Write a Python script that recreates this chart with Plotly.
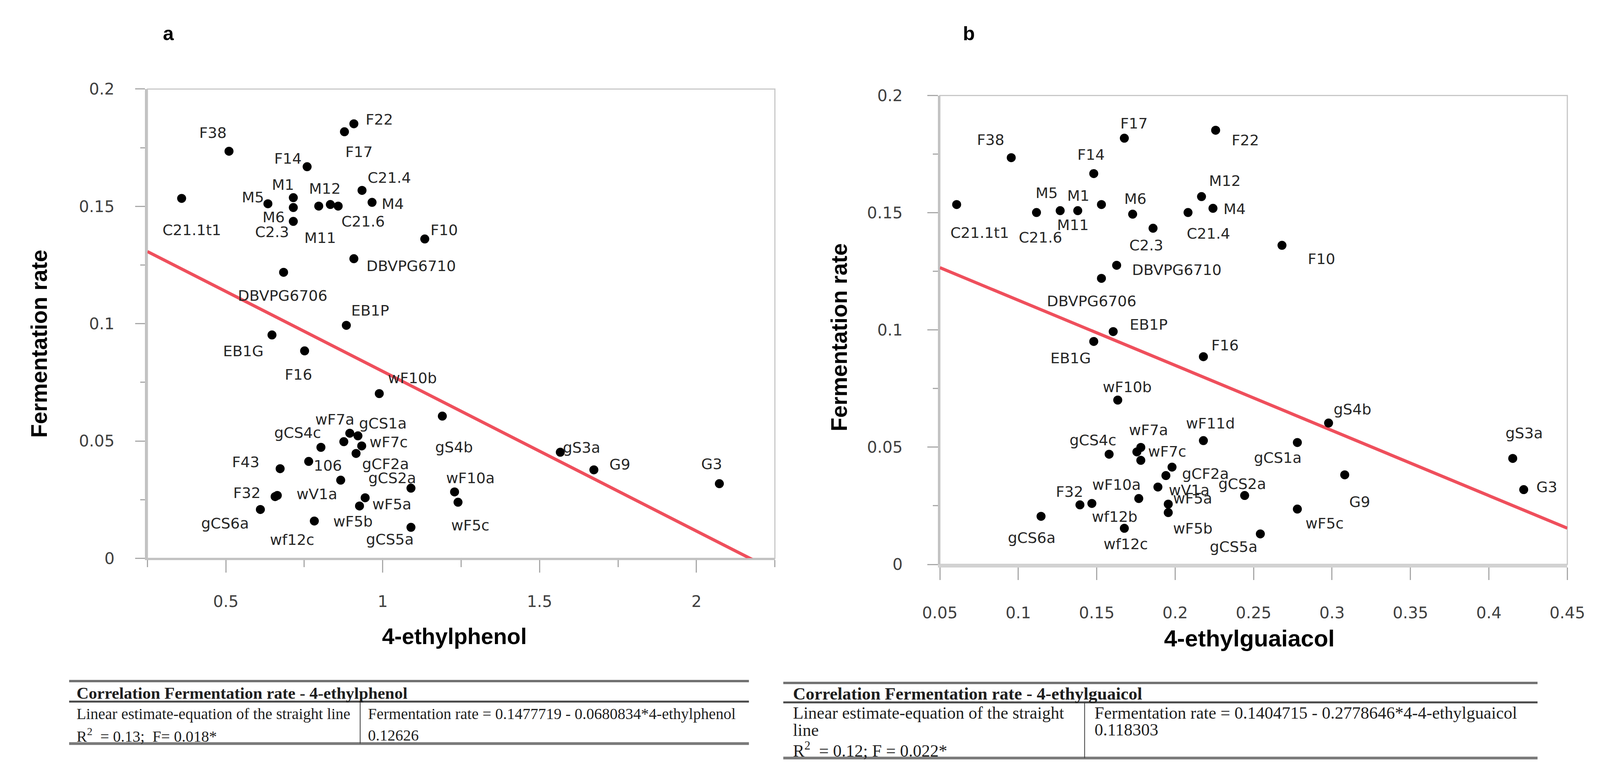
import plotly.graph_objects as go

W, H = 4117, 1997

# ---------------- Panel a data (4-ethylphenol) ----------------
labels_a = ["F22", "F17", "F38", "F14", "C21.4", "C21.1t1", "M5", "M1", "M6", "C2.3",
            "M12", "M11", "C21.6", "M4", "F10", "DBVPG6710", "DBVPG6706", "EB1P", "EB1G", "F16",
            "wF10b", "gS4b", "wF7a", "gCS1a", "", "wF7c", "gCF2a", "gCS4c", "106", "F43",
            "wV1a", "gCS2a", "wF10a", "wF5c", "F32", "", "wF5b", "wF5a", "gCS6a", "wf12c",
            "gCS5a", "gS3a", "G9", "G3"]
ethylphenol = [0.908, 0.878, 0.510, 0.759, 0.934, 0.359, 0.634, 0.715, 0.715, 0.715,
               0.796, 0.833, 0.858, 0.966, 1.134, 0.908, 0.684, 0.884, 0.647, 0.751,
               0.989, 1.190, 0.895, 0.921, 0.876, 0.933, 0.915, 0.803, 0.764, 0.673,
               0.866, 1.090, 1.229, 1.240, 0.657, 0.664, 0.944, 0.926, 0.610, 0.782,
               1.090, 1.566, 1.673, 2.073]
rate_a = [0.1852, 0.1818, 0.1735, 0.1669, 0.1568, 0.1534, 0.1511, 0.1537, 0.1495, 0.1436,
          0.1501, 0.1508, 0.1501, 0.1517, 0.1361, 0.1277, 0.1219, 0.0993, 0.0952, 0.0884,
          0.0702, 0.0606, 0.0533, 0.0522, 0.0497, 0.0479, 0.0447, 0.0473, 0.0413, 0.0382,
          0.0333, 0.0299, 0.0283, 0.0239, 0.0263, 0.0268, 0.0258, 0.0223, 0.0208, 0.0159,
          0.0132, 0.0452, 0.0377, 0.0318]

# ---------------- Panel b data (4-ethylguaiacol) ----------------
labels_b = ["F17", "F22", "F38", "F14", "M12", "C21.1t1", "M4", "C21.6", "M5", "M11",
            "M1", "M6", "C21.4", "C2.3", "F10", "DBVPG6710", "DBVPG6706", "EB1P", "EB1G", "F16",
            "wF10b", "gS4b", "wF11d", "gCS1a", "wF7a", "gCS4c", "wF7c", "", "gCF2a", "",
            "wV1a", "gCS2a", "wF10a", "F32", "wf12b", "wF5a", "wF5b", "gCS6a", "wf12c", "wF5c",
            "gCS5a", "G9", "gS3a", "G3"]
ethylguaiacol = [0.1676, 0.2258, 0.0955, 0.1481, 0.2168, 0.0607, 0.2241, 0.1116, 0.1267, 0.1379,
                 0.1530, 0.1729, 0.2082, 0.1859, 0.2681, 0.1627, 0.1530, 0.1605, 0.1481, 0.2180,
                 0.1634, 0.2978, 0.2180, 0.2779, 0.1781, 0.1579, 0.1756, 0.1781, 0.1980, 0.1941,
                 0.1890, 0.2443, 0.1768, 0.1393, 0.1469, 0.1956, 0.1956, 0.1145, 0.1676, 0.2779,
                 0.2543, 0.3081, 0.4152, 0.4222]
rate_b = [0.1818, 0.1852, 0.1735, 0.1667, 0.1569, 0.1535, 0.1519, 0.1501, 0.1509, 0.1509,
          0.1535, 0.1494, 0.1501, 0.1434, 0.1361, 0.1276, 0.1220, 0.0993, 0.0951, 0.0886,
          0.0701, 0.0603, 0.0528, 0.0520, 0.0499, 0.0470, 0.0480, 0.0444, 0.0415, 0.0379,
          0.0330, 0.0294, 0.0281, 0.0254, 0.0260, 0.0257, 0.0221, 0.0205, 0.0154, 0.0236,
          0.0130, 0.0382, 0.0452, 0.0319]

# Regression coefficients (from the tables)
intercept_a, slope_a = 0.1477719, -0.0680834
intercept_b, slope_b = 0.1404715, -0.2778646

# Table texts
table_a_header = "Correlation Fermentation rate - 4-ethylphenol"
table_a_left = ["Linear estimate-equation of the straight line", "R<sup>2</sup>  = 0.13;  F= 0.018*"]
table_a_right = ["Fermentation rate = 0.1477719 - 0.0680834*4-ethylphenol", "0.12626"]
table_b_header = "Correlation Fermentation rate - 4-ethylguaicol"
table_b_left = ["Linear estimate-equation of the straight", "line", "R<sup>2</sup>  = 0.12; F = 0.022*"]
table_b_right = ["Fermentation rate = 0.1404715 - 0.2778646*4-4-ethylguaicol", "0.118303"]

# ---------------- Styles (label offsets in px: dx right, dy down) ----------------
off_a = [(65, -11), (37, 52), (-41, -47), (-49, -21), (70, -32), (26, 81), (-38, -17), (-26, -33), (-50, 25), (-54, 27),
         (16, -45), (-26, 85), (64, 39), (53, 4), (50, -23), (147, 19), (-2, 60), (61, -38), (-73, 41), (-16, 61),
         (85, -40), (30, 80), (-38, -35), (64, -32), (0, 0), (69, -10), (75, 27), (-60, -37), (49, 11), (-88, -17),
         (-61, 36), (-48, -26), (41, -35), (31, 59), (-72, -9), (0, 0), (-31, 61), (83, -4), (-91, 36), (-57, 48),
         (-54, 31), (55, -12), (67, -14), (-20, -50)]
off_b = [(25, -38), (76, 26), (-53, -46), (-7, -48), (60, -40), (59, 72), (55, 2), (10, 64), (-35, -45), (-13, 37),
         (-59, -23), (7, -39), (52, 54), (-17, 44), (101, 35), (154, 12), (-25, 58), (91, -18), (-59, 43), (55, -29),
         (24, -33), (61, -35), (18, -44), (-50, 39), (20, -44), (-41, -36), (78, -1), (0, 0), (86, 17), (0, 0),
         (80, 8), (-6, -30), (-57, -35), (-27, -34), (58, 34), (62, -15), (63, 41), (-24, 55), (4, 40), (70, 37),
         (-68, 33), (38, 69), (29, -65), (59, -7)]

RANGE_XA = [0.25, 2.25]
RANGE_XB = [0.05, 0.45]
RANGE_Y = [0, 0.2]

LINE_RED = "#EF4F5C"
AX_GRAY = "#c2c2c2"
TICK_GRAY = "#a9a9a9"
TICK_FONT = dict(family="DejaVu Sans, Verdana, sans-serif", size=41, color="#404040")
LABEL_FONT = dict(family="DejaVu Sans, Verdana, sans-serif", size=38, color="#262626")
TITLE_FONT = dict(family="Liberation Sans, Arial, Helvetica, sans-serif", size=57, color="#000000")
SERIF = "Liberation Serif, Times New Roman, serif"


def px(x):
    return x / W


def py(y):
    return 1 - y / H


fig = go.Figure()

# regression lines (computed from the equations)
fig.add_trace(go.Scatter(x=RANGE_XA, y=[intercept_a + slope_a * v for v in RANGE_XA],
                         mode="lines", line=dict(color=LINE_RED, width=8),
                         xaxis="x", yaxis="y", hoverinfo="skip"))
fig.add_trace(go.Scatter(x=RANGE_XB, y=[intercept_b + slope_b * v for v in RANGE_XB],
                         mode="lines", line=dict(color=LINE_RED, width=8),
                         xaxis="x2", yaxis="y2", hoverinfo="skip"))

# points
fig.add_trace(go.Scatter(x=ethylphenol, y=rate_a, mode="markers",
                         marker=dict(color="black", size=23), xaxis="x", yaxis="y"))
fig.add_trace(go.Scatter(x=ethylguaiacol, y=rate_b, mode="markers",
                         marker=dict(color="black", size=23), xaxis="x2", yaxis="y2"))

annotations = []
for lab, xv, yv, (dx, dy) in zip(labels_a, ethylphenol, rate_a, off_a):
    if lab:
        annotations.append(dict(x=xv, y=yv, xref="x", yref="y", text=lab, showarrow=False,
                                xshift=dx, yshift=-dy, font=LABEL_FONT,
                                xanchor="center", yanchor="middle"))
for lab, xv, yv, (dx, dy) in zip(labels_b, ethylguaiacol, rate_b, off_b):
    if lab:
        annotations.append(dict(x=xv, y=yv, xref="x2", yref="y2", text=lab, showarrow=False,
                                xshift=dx, yshift=-dy, font=LABEL_FONT,
                                xanchor="center", yanchor="middle"))

# axis titles and panel letters
annotations += [
    dict(x=px(55), y=py(877), xref="paper", yref="paper", text="<b>Fermentation rate</b>",
         textangle=-90, showarrow=False, font=TITLE_FONT, xanchor="center", yanchor="middle"),
    dict(x=px(2150), y=py(860), xref="paper", yref="paper", text="<b>Fermentation rate</b>",
         textangle=-90, showarrow=False, font=TITLE_FONT, xanchor="center", yanchor="middle"),
    dict(x=px(1143), y=py(1645), xref="paper", yref="paper", text="<b>4-ethylphenol</b>",
         showarrow=False, font=TITLE_FONT, xanchor="center", yanchor="middle"),
    dict(x=px(3225), y=py(1650), xref="paper", yref="paper", text="<b>4-ethylguaiacol</b>",
         showarrow=False, font=dict(TITLE_FONT, size=60), xanchor="center", yanchor="middle"),
    dict(x=px(394), y=py(64), xref="paper", yref="paper", text="<b>a</b>", showarrow=False,
         font=dict(family="Liberation Sans, Arial, sans-serif", size=50, color="black"),
         xanchor="center", yanchor="middle"),
    dict(x=px(2490), y=py(64), xref="paper", yref="paper", text="<b>b</b>", showarrow=False,
         font=dict(family="Liberation Sans, Arial, sans-serif", size=50, color="black"),
         xanchor="center", yanchor="middle"),
]


# tables text
def tx(x, y, text, size, bold=False):
    return dict(x=px(x), y=py(y), xref="paper", yref="paper",
                text=("<b>%s</b>" % text) if bold else text, showarrow=False,
                font=dict(family=SERIF, size=size, color="#1e1e1e"),
                xanchor="left", yanchor="middle")


annotations.append(tx(151, 1794, table_a_header, 43, bold=True))
for t, yy in zip(table_a_left, [1848, 1904]):
    annotations.append(tx(151, yy, t, 40))
for t, yy in zip(table_a_right, [1848, 1904]):
    annotations.append(tx(914, yy, t, 40))
annotations.append(tx(2027, 1795, table_b_header, 45, bold=True))
for t, yy in zip(table_b_left, [1846, 1891, 1942]):
    annotations.append(tx(2027, yy, t, 44))
for t, yy in zip(table_b_right, [1846, 1890]):
    annotations.append(tx(2817, yy, t, 44))

shapes = []
# plot frames
for xr, yr in (("x domain", "y domain"), ("x2 domain", "y2 domain")):
    shapes.append(dict(type="rect", xref=xr, yref=yr, x0=0, x1=1, y0=0, y1=1,
                       line=dict(color="#c8c8c8", width=3), layer="below"))


def hline(x0, x1, y, w, c):
    return dict(type="line", xref="paper", yref="paper", x0=px(x0), x1=px(x1),
                y0=py(y), y1=py(y), line=dict(color=c, width=w))


def vline(x, y0, y1, w, c):
    return dict(type="line", xref="paper", yref="paper", x0=px(x), x1=px(x),
                y0=py(y0), y1=py(y1), line=dict(color=c, width=w))


shapes += [
    hline(134, 1914, 1762, 6, "#6f6f6f"),
    hline(134, 1914, 1816, 5, "#4a4a4a"),
    hline(134, 1914, 1926, 7, "#7a7a7a"),
    vline(896, 1816, 1926, 2, "#3a3a3a"),
    hline(2004, 3979, 1767, 6, "#6f6f6f"),
    hline(2004, 3979, 1818, 5, "#4a4a4a"),
    hline(2004, 3979, 1964, 7, "#7a7a7a"),
    vline(2793, 1818, 1964, 2, "#3a3a3a"),
]

common_axis = dict(showgrid=False, zeroline=False, showline=True, linecolor=AX_GRAY,
                   ticks="outside", tickcolor=TICK_GRAY, tickwidth=3, tickfont=TICK_FONT,
                   fixedrange=True)

fig.update_layout(
    width=W, height=H, margin=dict(l=0, r=0, t=0, b=0),
    paper_bgcolor="white", plot_bgcolor="white", showlegend=False,
    xaxis=dict(common_axis, domain=[px(339), px(1982)], range=RANGE_XA, anchor="y",
               tickmode="linear", tick0=0, dtick=0.5, ticklen=32, linewidth=5,
               ticklabelstandoff=38,
               minor=dict(tickmode="linear", tick0=0, dtick=0.25, ticks="outside",
                          ticklen=18, tickwidth=3, tickcolor=TICK_GRAY)),
    yaxis=dict(common_axis, domain=[py(1440), py(209)], range=RANGE_Y, anchor="x",
               tickmode="linear", tick0=0, dtick=0.05, ticklen=25, linewidth=6,
               ticklabelstandoff=45,
               minor=dict(tickmode="linear", tick0=0, dtick=0.025, ticks="outside",
                          ticklen=12, tickwidth=3, tickcolor=TICK_GRAY)),
    xaxis2=dict(common_axis, domain=[px(2414), px(4057)], range=RANGE_XB, anchor="y2",
                tickmode="linear", tick0=0, dtick=0.05, ticklen=32, linewidth=8,
                linecolor="#d2d2d2", ticklabelstandoff=49),
    yaxis2=dict(common_axis, domain=[py(1456), py(226)], range=RANGE_Y, anchor="x2",
                tickmode="linear", tick0=0, dtick=0.05, ticklen=27, linewidth=5,
                ticklabelstandoff=55,
                minor=dict(tickmode="linear", tick0=0, dtick=0.025, ticks="outside",
                           ticklen=13, tickwidth=3, tickcolor=TICK_GRAY)),
    annotations=annotations,
    shapes=shapes,
)

fig.write_html("out.html", config={"displayModeBar": False},
               post_script="document.body.style.margin='0';document.body.style.overflow='hidden';")
